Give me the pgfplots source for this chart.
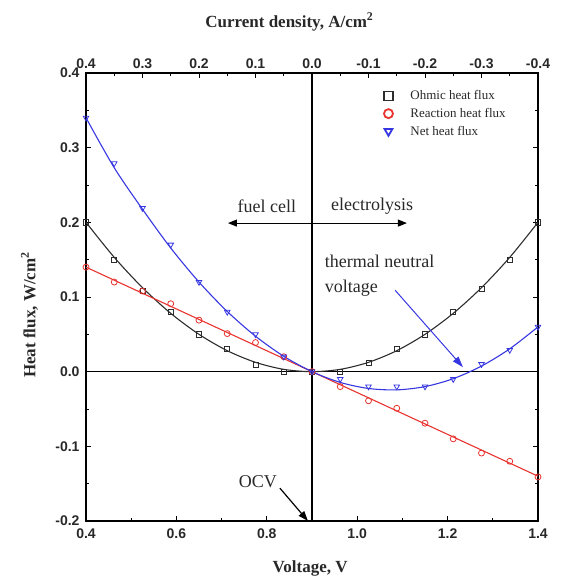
\documentclass[border=0pt]{standalone}
\usepackage{fontspec}
\setmainfont{Liberation Serif}
\setsansfont{Liberation Sans}
\usepackage{pgfplots}
\pgfplotsset{compat=1.18}
\usetikzlibrary{arrows.meta}
\definecolor{myred}{RGB}{232,52,48}
\definecolor{myblue}{RGB}{55,55,225}
\definecolor{mygray}{RGB}{45,45,45}
\definecolor{txt}{RGB}{40,40,40}
\begin{document}
\begin{tikzpicture}
\path[use as bounding box] (-86pt,-65pt) rectangle (480pt,521pt);
\begin{axis}[
  at={(0,0)}, anchor=south west,
  scale only axis, width=452pt, height=448pt,
  xmin=0.4, xmax=1.4, ymin=-0.2, ymax=0.4,
  xtick={0.4,0.6,0.8,1.0,1.2,1.4}, minor x tick num=1,
  ytick={-0.2,-0.1,0,0.1,0.2,0.3,0.4}, minor y tick num=1,
  xtick pos=left, yticklabel pos=left,
  tick align=inside,
  /pgf/number format/assume math mode=true,
  tick label style={font=\sffamily\bfseries\fontsize{14}{16}\selectfont, text=txt},
  x tick label style={yshift=-4pt, /pgf/number format/.cd, fixed, fixed zerofill, precision=1, /tikz/.cd},
  y tick label style={xshift=-3pt, /pgf/number format/.cd, fixed, fixed zerofill, precision=1, /tikz/.cd},
  xlabel={Voltage, V}, ylabel={Heat flux, W/cm\textsuperscript{2}},
  label style={font=\bfseries\fontsize{17}{20}\selectfont, text=txt},
  xlabel style={at={(axis description cs:0.496,-0.105)}, anchor=center},
  ylabel style={at={(axis description cs:-0.125,0.46)}, anchor=center},
  major tick length=5pt, minor tick length=3pt,
  every tick/.style={black, line width=1pt},
  axis line style={line width=1.2pt},
  legend style={draw=none, fill=none, at={(0.94,0.97)}, anchor=north east,
    font=\fontsize{13}{15}\selectfont, text=txt, row sep=3pt},
  legend cell align=left,
  legend image code/.code={\path[draw=none] (-0.4cm,0cm) -- (1.0cm,0cm);\draw[#1, only marks, mark size=4.5pt, line width=1.8pt] plot coordinates {(0.3cm,0cm)};},
]
% reference lines
\addplot[black, line width=1.2pt, forget plot] coordinates {(0.9,-0.2) (0.9,0.4)};
\addplot[black, line width=1.2pt, forget plot] coordinates {(0.4,0) (1.4,0)};
% smooth lines
\addplot[mygray, line width=1.1pt, smooth, forget plot] coordinates {
(0.4,0.2) (0.4625,0.1531) (0.525,0.1125) (0.5875,0.0781) (0.65,0.05) (0.7125,0.0281)
(0.775,0.0125) (0.8375,0.0031) (0.9,0) (0.9625,0.0031) (1.025,0.0125) (1.0875,0.0281)
(1.15,0.05) (1.2125,0.0781) (1.275,0.1125) (1.3375,0.1531) (1.4,0.2)};
\addplot[myred, line width=1.1pt, forget plot] coordinates {(0.4,0.14) (1.4,-0.14)};
\addplot[myblue, line width=1.1pt, smooth, forget plot] coordinates {
(0.4,0.34) (0.4625,0.2731) (0.525,0.2175) (0.5875,0.1656) (0.65,0.12) (0.7125,0.0806)
(0.775,0.0475) (0.8375,0.0206) (0.9,0) (0.9625,-0.0144) (1.025,-0.0225) (1.0875,-0.0244)
(1.15,-0.02) (1.2125,-0.0094) (1.275,0.0075) (1.3375,0.0306) (1.4,0.06)};
% markers
\addplot[mygray, only marks, mark=square, mark size=2.6pt, line width=0.8pt] coordinates {
(0.4,0.2) (0.4625,0.15) (0.525,0.108) (0.5875,0.08) (0.65,0.05) (0.7125,0.03)
(0.775,0.009) (0.8375,0.0) (0.9,0) (0.9625,0.0) (1.025,0.012) (1.0875,0.03)
(1.15,0.05) (1.2125,0.08) (1.275,0.111) (1.3375,0.15) (1.4,0.2)};
\addlegendentry{Ohmic heat flux}
\addplot[myred, only marks, mark=o, mark size=3pt, line width=0.8pt] coordinates {
(0.4,0.14) (0.4625,0.12) (0.525,0.108) (0.5875,0.091) (0.65,0.069) (0.7125,0.051)
(0.775,0.039) (0.8375,0.02) (0.9,0) (0.9625,-0.02) (1.025,-0.039) (1.0875,-0.049)
(1.15,-0.069) (1.2125,-0.09) (1.275,-0.109) (1.3375,-0.12) (1.4,-0.141)};
\addlegendentry{Reaction heat flux}
\addplot[myblue, only marks, mark=triangle, mark options={rotate=180}, mark size=3.2pt, line width=0.8pt] coordinates {
(0.4,0.34) (0.4625,0.279) (0.525,0.219) (0.5875,0.17) (0.65,0.12) (0.7125,0.08)
(0.775,0.05) (0.8375,0.02) (0.9,0) (0.9625,-0.01) (1.025,-0.02) (1.0875,-0.02)
(1.15,-0.02) (1.2125,-0.01) (1.275,0.01) (1.3375,0.029) (1.4,0.06)};
\addlegendentry{Net heat flux}
% annotations
\node[font=\fontsize{18}{20}\selectfont, text=txt] at (axis cs:0.80,0.222) {fuel cell};
\node[font=\fontsize{18}{20}\selectfont, text=txt] at (axis cs:1.033,0.222) {electrolysis};
\draw[{Triangle[length=9pt,width=7pt]}-{Triangle[length=9pt,width=7pt]}, line width=1pt] (axis cs:0.714,0.199) -- (axis cs:1.11,0.199);
\node[font=\fontsize{18}{25}\selectfont, text=txt, anchor=west, align=left, inner sep=0pt] at (axis cs:0.928,0.129) {thermal neutral\\voltage};
\draw[myblue, -{Triangle[length=11pt,width=7pt]}, line width=1pt] (axis cs:1.084,0.109) -- (axis cs:1.234,0.006);
\node[font=\fontsize{18}{20}\selectfont, text=txt] at (axis cs:0.78,-0.148) {OCV};
\draw[-{Triangle[length=10pt,width=7pt]}, line width=1.2pt] (axis cs:0.829,-0.156) -- (axis cs:0.891,-0.2);
\end{axis}
\begin{axis}[
  at={(0,0)}, anchor=south west,
  scale only axis, width=452pt, height=448pt,
  xmin=0.4, xmax=1.4, ymin=-0.2, ymax=0.4,
  axis x line*=top, hide y axis,
  tick align=inside,
  xtick={0.4,0.525,0.65,0.775,0.9,1.025,1.15,1.275,1.4},
  xticklabels={0.4,0.3,0.2,0.1,0.0,-0.1,-0.2,-0.3,-0.4},
  minor x tick num=1,
  tick label style={font=\sffamily\bfseries\fontsize{14}{16}\selectfont, text=txt, yshift=1pt},
  major tick length=5pt, minor tick length=3pt,
  every tick/.style={black, line width=1pt},
  axis line style={line width=1.2pt},
  xlabel={Current density, A/cm\textsuperscript{2}},
  xlabel style={font=\bfseries\fontsize{17}{20}\selectfont, text=txt, at={(axis description cs:0.45,1.114)}, anchor=center},
]
\end{axis}
\end{tikzpicture}
\end{document}
